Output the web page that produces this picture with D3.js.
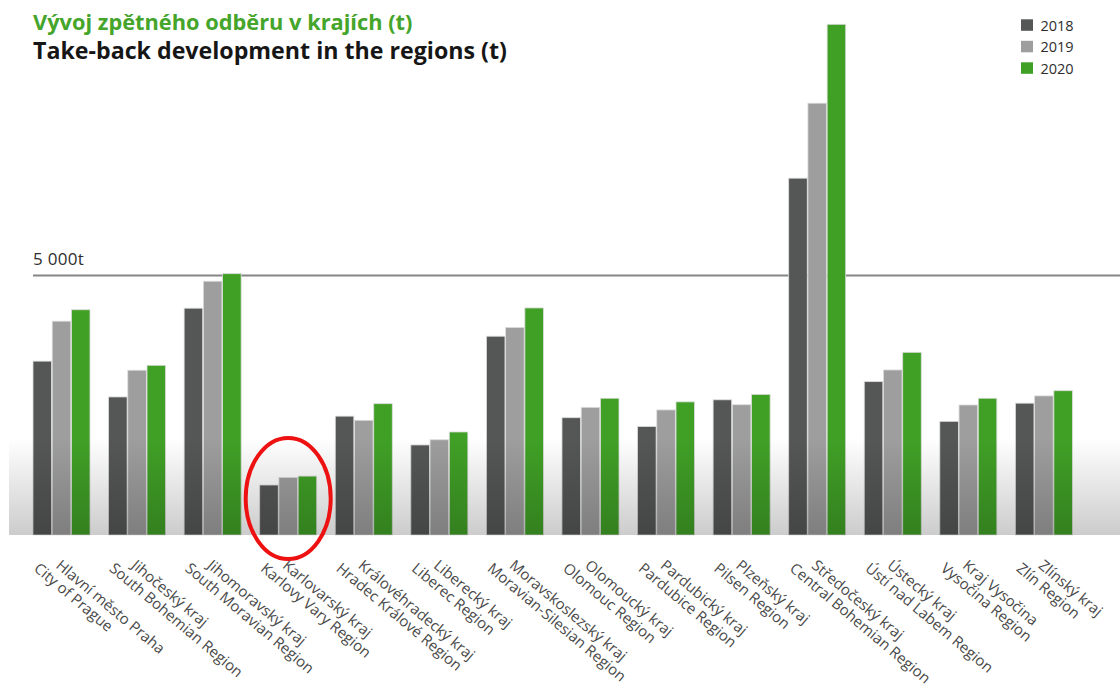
<!DOCTYPE html>
<html>
<head>
<meta charset="utf-8">
<script src="https://cdn.jsdelivr.net/npm/d3@7"></script>
<style>
  html, body { margin: 0; padding: 0; background: #fff; }
  svg { display: block; font-family: "Open Sans", "Noto Sans", sans-serif; }
</style>
</head>
<body>
<svg id="chart" width="1120" height="691"></svg>
<script>
// Regions: Czech name (first line) and English name (second line)
const regionsCz = [
  "Hlavní město Praha", "Jihočeský kraj", "Jihomoravský kraj", "Karlovarský kraj",
  "Královéhradecký kraj", "Liberecký kraj", "Moravskoslezský kraj", "Olomoucký kraj",
  "Pardubický kraj", "Plzeňský kraj", "Středočeský kraj", "Ústecký kraj",
  "Kraj Vysočina", "Zlínský kraj"
];
const regionsEn = [
  "City of Prague", "South Bohemian Region", "South Moravian Region", "Karlovy Vary Region",
  "Hradec Králové Region", "Liberec Region", "Moravian-Silesian Region", "Olomouc Region",
  "Pardubice Region", "Pilsen Region", "Central Bohemian Region", "Ústí nad Labem Region",
  "Vysočina Region", "Zlín Region"
];
const years = ["2018", "2019", "2020"];

// Take-back quantities in tonnes per region
const values2018 = [3350, 2660, 4370, 963, 2290, 1735, 3830, 2260, 2090, 2605, 6875, 2955, 2190, 2540];
const values2019 = [4120, 3175, 4890, 1110, 2210, 1835, 4000, 2460, 2410, 2510, 8320, 3180, 2505, 2680];
const values2020 = [4340, 3270, 5035, 1135, 2530, 1985, 4375, 2635, 2565, 2710, 9840, 3520, 2635, 2780];

const refValue = 5000;
const refLabel = "5 000t";
const highlighted = "Karlovarský kraj";

const titleCz = "Vývoj zpětného odběru v krajích (t)";
const titleEn = "Take-back development in the regions (t)";

const colors = { "2018": "#555756", "2019": "#9d9e9d", "2020": "#40a026" };

const svg = d3.select("#chart");
const W = 1120;
const baseY = 535;

const x = d3.scaleBand()
  .domain(regionsCz)
  .range([33, 1072.4])
  .paddingInner(0.2457)
  .paddingOuter(0);

const x1 = d3.scaleBand()
  .domain(years)
  .range([0, x.bandwidth()])
  .paddingInner(0.035);

const y = d3.scaleLinear().domain([0, refValue]).range([baseY, 275.5]);

const series = { "2018": values2018, "2019": values2019, "2020": values2020 };
const rows = regionsCz.map((r, i) => ({
  region: r,
  en: regionsEn[i],
  vals: years.map(yr => ({ year: yr, value: series[yr][i] }))
}));

// Gradient used for the shaded floor band
const defs = svg.append("defs");
const grad = defs.append("linearGradient")
  .attr("id", "floor").attr("x1", 0).attr("y1", 0).attr("x2", 0).attr("y2", 1);
grad.append("stop").attr("offset", 0).attr("stop-color", "#000").attr("stop-opacity", 0);
grad.append("stop").attr("offset", 1).attr("stop-color", "#000").attr("stop-opacity", 0.2);

// Reference line at 5 000 t
svg.append("line")
  .attr("x1", 33).attr("x2", W)
  .attr("y1", y(refValue)).attr("y2", y(refValue))
  .attr("stroke", "#858585").attr("stroke-width", 2);

svg.append("text")
  .attr("x", 33).attr("y", y(refValue) - 10.5)
  .attr("font-size", 17).attr("fill", "#2e2e2e")
  .attr("letter-spacing", 0.3)
  .text(refLabel);

// Bars
const groups = svg.append("g").selectAll("g")
  .data(rows).join("g")
  .attr("transform", d => `translate(${x(d.region)},0)`);

groups.selectAll("rect")
  .data(d => d.vals).join("rect")
  .attr("x", d => x1(d.year))
  .attr("y", d => y(d.value))
  .attr("width", x1.bandwidth())
  .attr("height", d => baseY - y(d.value))
  .attr("fill", d => colors[d.year])
  .attr("stroke", "#dcdcdc")
  .attr("stroke-width", 0.8);

// Shaded floor over the lower part of the plot
svg.append("rect")
  .attr("x", 9).attr("y", 438)
  .attr("width", W - 9).attr("height", baseY - 438)
  .attr("fill", "url(#floor)");

// Rotated two-line category labels
const labelAngle = 40;
const labels = svg.append("g").selectAll("g")
  .data(rows).join("g")
  .attr("font-size", 15).attr("fill", "#4a4a4a");

labels.append("text")
  .attr("transform", d => `translate(${x(d.region) + x.bandwidth() / 2 - 6.5},567) rotate(${labelAngle})`)
  .text(d => d.region);
labels.append("text")
  .attr("transform", d => `translate(${x(d.region) + x.bandwidth() / 2 - 28.5},570) rotate(${labelAngle})`)
  .text(d => d.en);

// Highlight ring around one region
svg.append("ellipse")
  .attr("cx", x(highlighted) + x.bandwidth() / 2)
  .attr("cy", 498.5)
  .attr("rx", 42.5).attr("ry", 60.5)
  .attr("fill", "none")
  .attr("stroke", "#ee1111").attr("stroke-width", 4);

// Titles
svg.append("text")
  .attr("x", 33).attr("y", 30)
  .attr("font-size", 21.8).attr("font-weight", 700)
  .attr("fill", "#45a52b")
  .text(titleCz);
svg.append("text")
  .attr("x", 33).attr("y", 59)
  .attr("font-size", 23.2).attr("font-weight", 700)
  .attr("fill", "#161616")
  .text(titleEn);

// Legend
const legend = svg.append("g").selectAll("g")
  .data(years).join("g")
  .attr("transform", (d, i) => `translate(1021,${19.3 + i * 21.5})`);
legend.append("rect")
  .attr("width", 12).attr("height", 11.5)
  .attr("fill", d => colors[d]);
legend.append("text")
  .attr("x", 19.5).attr("y", 11.3)
  .attr("font-size", 14.5).attr("fill", "#2e2e2e")
  .text(d => d);
</script>
</body>
</html>
